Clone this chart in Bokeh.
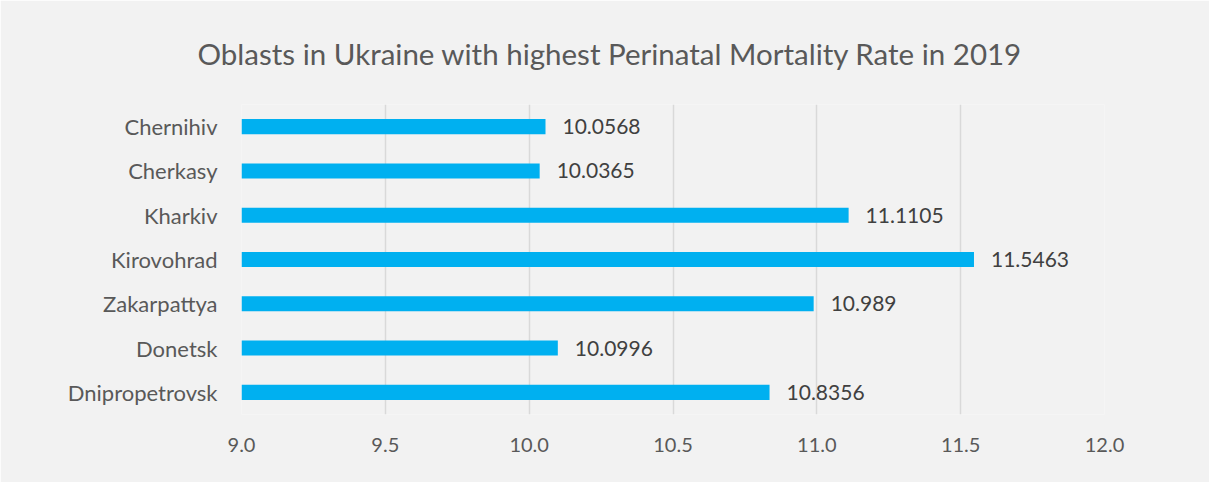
from bokeh.plotting import figure
from bokeh.models import ColumnDataSource, FactorRange, Range1d, NumeralTickFormatter, FixedTicker
from bokeh.core.properties import value
from bokeh.embed import file_html
from bokeh.resources import INLINE

oblasts = ["Chernihiv", "Cherkasy", "Kharkiv", "Kirovohrad", "Zakarpattya", "Donetsk", "Dnipropetrovsk"]
rates = [10.0568, 10.0365, 11.1105, 11.5463, 10.989, 10.0996, 10.8356]
rate_labels = ["10.0568", "10.0365", "11.1105", "11.5463", "10.989", "10.0996", "10.8356"]
x_ticks = [9.0, 9.5, 10.0, 10.5, 11.0, 11.5, 12.0]

FONT = "Lato"
src = ColumnDataSource(dict(y=oblasts, x=rates, lab=rate_labels, left=[9.0] * len(rates)))

p = figure(width=1209, height=482, output_backend="svg", toolbar_location=None,
           y_range=FactorRange(factors=list(reversed(oblasts)), range_padding=0),
           x_range=Range1d(9.0, 12.0),
           min_border_left=241, min_border_right=105, min_border_top=104, min_border_bottom=68,
           title="Oblasts in Ukraine with highest Perinatal Mortality Rate in 2019")
p.background_fill_color = "#f2f2f2"
p.border_fill_color = "#f2f2f2"
p.outline_line_color = None

p.title.align = "left"
p.title.offset = -44
p.title.text_font = FONT
p.title.text_font_style = "normal"
p.title.text_font_size = "29.5px"
p.title.text_color = "#595959"
p.title.standoff = 67

p.hbar(y="y", left="left", right="x", height=0.34, source=src, color="#00b0f0", line_color=None)
p.text(x="x", y="y", text="lab", source=src, x_offset=17, text_baseline="middle",
       text_font=value(FONT), text_font_size="21px", text_color="#404040")

p.xgrid.grid_line_color = "#d9d9d9"
p.xgrid.grid_line_width = 1.5
p.ygrid.grid_line_color = None

p.xaxis.ticker = FixedTicker(ticks=x_ticks)
p.xaxis.formatter = NumeralTickFormatter(format="0.0")
for ax in (p.xaxis, p.yaxis):
    ax.axis_line_color = None
    ax.major_tick_line_color = None
    ax.minor_tick_line_color = None
    ax.major_label_text_font = FONT
    ax.major_label_text_color = "#595959"
p.xaxis.major_label_text_font_size = "20px"
p.yaxis.major_label_text_font_size = "22px"
p.xaxis.major_label_standoff = 17
p.yaxis.major_label_standoff = 18

open("out.html", "w").write(file_html(p, INLINE))
